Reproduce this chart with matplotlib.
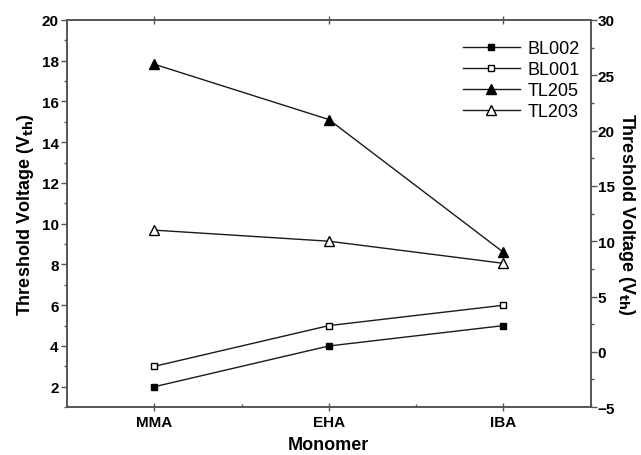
import matplotlib
matplotlib.use("Agg")
import matplotlib.pyplot as plt
from matplotlib.ticker import MultipleLocator

plt.rcParams['font.family'] = ['Liberation Sans', 'DejaVu Sans']

# data
monomers = ['MMA', 'EHA', 'IBA']
bl002 = [2, 4, 5]      # left axis
bl001 = [3, 5, 6]      # left axis
tl205 = [26, 21, 9]    # right axis
tl203 = [11, 10, 8]    # right axis

x = list(range(len(monomers)))
ink = '#1a1a1a'
spine_col = '#555555'

fig = plt.figure(figsize=(6.41, 4.56), dpi=100)
ax = fig.add_axes([0.1045, 0.105, 0.817, 0.849])
ax2 = ax.twinx()

l1, = ax.plot(x, bl002, color=ink, lw=1, marker='s', ms=4.5, mfc='black', mec='black', label='BL002')
l2, = ax.plot(x, bl001, color=ink, lw=1, marker='s', ms=4.5, mfc='white', mec='black', label='BL001')
l3, = ax2.plot(x, tl205, color=ink, lw=1, marker='^', ms=6.5, mfc='black', mec='black', label='TL205')
l4, = ax2.plot(x, tl203, color=ink, lw=1, marker='^', ms=6.5, mfc='white', mec='black', label='TL203')

ax.set_xlim(-0.5, 2.5)
ax.set_ylim(1, 20)
ax2.set_ylim(-5, 30)

ax.set_xticks(x)
ax.set_xticklabels(monomers, fontsize=11, fontweight='bold')
ax.xaxis.set_minor_locator(MultipleLocator(0.5))
ax.yaxis.set_major_locator(MultipleLocator(2))
ax.yaxis.set_minor_locator(MultipleLocator(1))
ax2.yaxis.set_major_locator(MultipleLocator(5))
ax2.yaxis.set_minor_locator(MultipleLocator(2.5))

for lab in ax.get_yticklabels() + ax2.get_yticklabels():
    lab.set_fontweight('bold')
    lab.set_fontsize(11)

ax.tick_params(axis='y', which='major', direction='out', length=4, width=1, color=spine_col, pad=2)
ax.tick_params(axis='y', which='minor', direction='out', length=2, width=1, color=spine_col)
ax.tick_params(axis='x', which='major', direction='inout', length=6, width=1, color=spine_col,
               top=True, pad=3)
ax.tick_params(axis='x', which='minor', direction='in', length=2, width=1, color=spine_col)
ax2.tick_params(axis='y', which='major', direction='out', length=4, width=1, color=spine_col, pad=1)
ax2.tick_params(axis='y', which='minor', direction='out', length=2, width=1, color=spine_col)

for a in (ax, ax2):
    for s in a.spines.values():
        s.set_color(spine_col)
        s.set_linewidth(1.2)

ax.set_xlabel('Monomer', fontsize=13, fontweight='bold', labelpad=5)
ax.set_ylabel('Threshold Voltage (V$_{\\mathbf{th}}$)', fontsize=13, fontweight='bold', labelpad=4)
ax2.set_ylabel('Threshold Voltage (V$_{\\mathbf{th}}$)', fontsize=13, fontweight='bold',
               rotation=270, labelpad=16)

ax2.legend(handles=[l1, l2, l3, l4], loc='upper right', bbox_to_anchor=(1.0, 0.975),
           frameon=False, fontsize=13, labelspacing=0.22, handlelength=3.2,
           handletextpad=0.4, borderaxespad=0.2)

fig.savefig('out.png', dpi=100)
